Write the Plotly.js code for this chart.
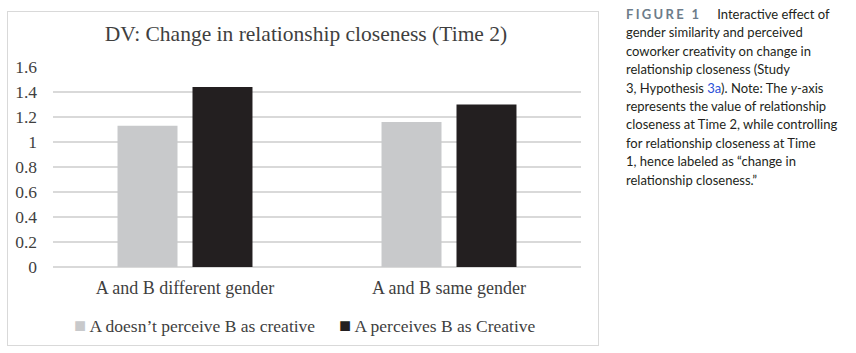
<!DOCTYPE html>
<html>
<head>
<meta charset="utf-8">
<script src="https://cdn.plot.ly/plotly-3.0.1.min.js"></script>
<style>
html,body{margin:0;padding:0;background:#fff;width:856px;height:353px;overflow:hidden;}
#box{position:absolute;left:7px;top:11px;width:590px;height:333px;border:1px solid #d9d9d9;}
#chart{position:absolute;left:0;top:0;width:590px;height:333px;}
#cap{position:absolute;left:626px;top:5px;width:230px;font-family:Lato,"Open Sans",sans-serif;font-size:13px;line-height:18.4px;color:#231f20;}
#cap .fig{font-weight:bold;letter-spacing:2.3px;color:#6d7c8a;margin-right:16px;}
#cap .lnk{color:#2a50d8;}
</style>
</head>
<body>
<div id="box"><div id="chart"></div></div>
<div id="cap"><span class="fig">FIGURE 1</span>Interactive effect of<br>gender similarity and perceived<br>coworker creativity on change in<br>relationship closeness (Study<br>3, Hypothesis <span class="lnk">3a</span>). Note: The <i>y</i>-axis<br>represents the value of relationship<br>closeness at Time 2, while controlling<br>for relationship closeness at Time<br>1, hence labeled as “change in<br>relationship closeness.”</div>
<script>
const categories = ["A and B different gender", "A and B same gender"];
const seriesNames = ["A doesn’t perceive B as creative", "A perceives B as Creative"];
const notCreative = [1.13, 1.16];
const creative = [1.44, 1.30];
const yTicks = [0, 0.2, 0.4, 0.6, 0.8, 1, 1.2, 1.4, 1.6];
const yTickText = ["0", "0.2", "0.4", "0.6", "0.8", "1", "1.2", "1.4", "1.6"];

const colors = ["#c8c9cb", "#231f20"];
const serif = "Liberation Serif, Times New Roman, serif";
const textColor = "#3f3f3f";
const data = [
  {type:"bar", x:categories, y:notCreative, name:seriesNames[0], marker:{color:colors[0]}, hoverinfo:"none"},
  {type:"bar", x:categories, y:creative, name:seriesNames[1], marker:{color:colors[1]}, hoverinfo:"none"}
];
const legendX = [0.036, 0.538];
const annotations = seriesNames.map((n, i) => ({
  xref:"paper", yref:"paper", x:legendX[i], y:-0.29, xanchor:"left", yanchor:"middle",
  showarrow:false, align:"left",
  text:'<span style="color:' + colors[i] + ';font-size:20px">■</span> ' + n,
  font:{family:serif, size:17.5, color:textColor}
}));
const layout = {
  width:590, height:333,
  margin:{l:45, r:17, t:55, b:78, autoexpand:false},
  paper_bgcolor:"#fff", plot_bgcolor:"#fff",
  title:{text:"DV: Change in relationship closeness (Time 2)", font:{family:serif, size:21.5, color:textColor}, x:0.505, xanchor:"center", y:0.935, yanchor:"middle", xref:"container", yref:"container"},
  barmode:"group", bargap:0.432, bargroupgap:0.2,
  font:{family:serif, size:17.5, color:textColor},
  xaxis:{showgrid:false, showline:false, zeroline:false, ticks:"", ticklabelstandoff:8, tickfont:{family:serif, size:18, color:textColor}},
  yaxis:{range:[0,1.6], tickvals:yTicks, ticktext:yTickText, showgrid:true, gridcolor:"#d9d9d9", gridwidth:1.5, zeroline:true, zerolinecolor:"#d9d9d9", zerolinewidth:1.5, showline:false, ticks:"", ticklabelstandoff:15, tickfont:{family:serif, size:17.5, color:textColor}},
  showlegend:false,
  annotations:annotations
};
Plotly.newPlot("chart", data, layout, {displayModeBar:false, staticPlot:true});
</script>
</body>
</html>
